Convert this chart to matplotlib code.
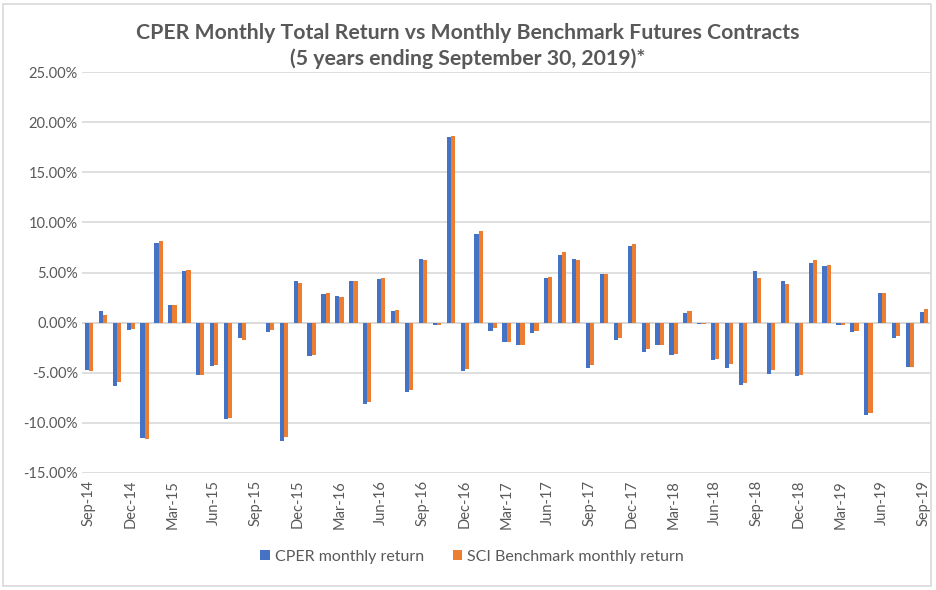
import numpy as np
import matplotlib
matplotlib.use('Agg')
from matplotlib import pyplot as plt
from matplotlib.patches import Rectangle

plt.rcParams['font.family'] = ['Lato', 'DejaVu Sans']

# monthly returns in %, Sep-14 .. Sep-19
cper = [-4.7, 1.2, -6.35, -0.73, -11.55, 7.94, 1.75, 5.13, -5.2, -4.37,
        -9.6, -1.56, 0.0, -0.96, -11.8, 4.17, -3.28, 2.85, 2.65, 4.17,
        -8.1, 4.4, 1.19, -6.92, 6.39, -0.2, 18.5, -4.87, 8.8, -0.8,
        -1.95, -2.28, -1.0, 4.5, 6.75, 6.36, -4.54, 4.9, -1.72, 7.6,
        -2.95, -2.28, -3.21, 0.99, -0.1, -3.7, -4.54, -6.19, 5.13, -5.1,
        4.14, -5.36, 5.96, 5.66, -0.2, -0.96, -9.17, 2.91, -1.49, -4.44,
        1.09]
sci = [-4.85, 0.76, -5.96, -0.66, -11.65, 8.18, 1.75, 5.23, -5.2, -4.2,
       -9.5, -1.72, -0.05, -0.73, -11.4, 4.0, -3.2, 2.98, 2.58, 4.17,
       -7.95, 4.5, 1.26, -6.69, 6.29, -0.2, 18.57, -4.6, 9.14, -0.56,
       -1.89, -2.22, -0.8, 4.57, 7.02, 6.29, -4.27, 4.9, -1.56, 7.81,
       -2.65, -2.22, -3.11, 1.19, -0.1, -3.6, -4.1, -6.03, 4.5, -4.7,
       3.84, -5.2, 6.22, 5.79, -0.2, -0.8, -9.0, 2.91, -1.32, -4.44,
       1.32]

tick_labels = ['Sep-14', 'Dec-14', 'Mar-15', 'Jun-15', 'Sep-15', 'Dec-15',
               'Mar-16', 'Jun-16', 'Sep-16', 'Dec-16', 'Mar-17', 'Jun-17',
               'Sep-17', 'Dec-17', 'Mar-18', 'Jun-18', 'Sep-18', 'Dec-18',
               'Mar-19', 'Jun-19', 'Sep-19']
y_ticks = [-15, -10, -5, 0, 5, 10, 15, 20, 25]

BLUE = '#4472C4'
ORANGE = '#ED7D31'
GRAY = '#595959'

fig = plt.figure(figsize=(9.36, 5.90), dpi=100)
ax = fig.add_axes([82/936, 117/590, 849/936, 401/590])

x = np.arange(len(cper))
w = 0.3
ax.bar(x - w/2, cper, w, color=BLUE, label='CPER monthly return', zorder=3)
ax.bar(x + w/2, sci, w, color=ORANGE, label='SCI Benchmark monthly return', zorder=3)

ax.set_xlim(-0.5, len(cper) - 0.5)
ax.set_ylim(-15, 25)
ax.set_yticks(y_ticks)
ax.set_yticklabels(['{:.2f}%'.format(v) for v in y_ticks], color=GRAY, fontsize=10.5)
ax.set_xticks(np.arange(0, len(cper), 3))
ax.set_xticklabels(tick_labels, rotation=90, color=GRAY, fontsize=10.5)
ax.tick_params(length=0, pad=5)
ax.tick_params(axis='y', pad=3)

ax.grid(axis='y', color='#D9D9D9', linewidth=1.2, zorder=0)
ax.axhline(0, color='#D9D9D9', linewidth=1.2, zorder=1)
for s in ax.spines.values():
    s.set_visible(False)

fig.text(468/936, 1 - 33/590, 'CPER Monthly Total Return vs Monthly Benchmark Futures Contracts',
         ha='center', va='center', fontsize=15.3, fontweight='bold', color=GRAY)
fig.text(468/936, 1 - 59/590, '(5 years ending September 30, 2019)*',
         ha='center', va='center', fontsize=15.3, fontweight='bold', color=GRAY)

fig.legend(loc='center', bbox_to_anchor=(472/936, 33/590), ncol=2, frameon=False,
           fontsize=11.5, labelcolor=GRAY, handlelength=0.6, handleheight=0.6,
           handletextpad=0.3, columnspacing=1.8)

fig.patches.append(Rectangle((3/936, 4/590), 928/936, 582/590, transform=fig.transFigure,
                             fill=False, edgecolor='#D9D9D9', linewidth=1.2))

fig.savefig('out.png', dpi=100)
